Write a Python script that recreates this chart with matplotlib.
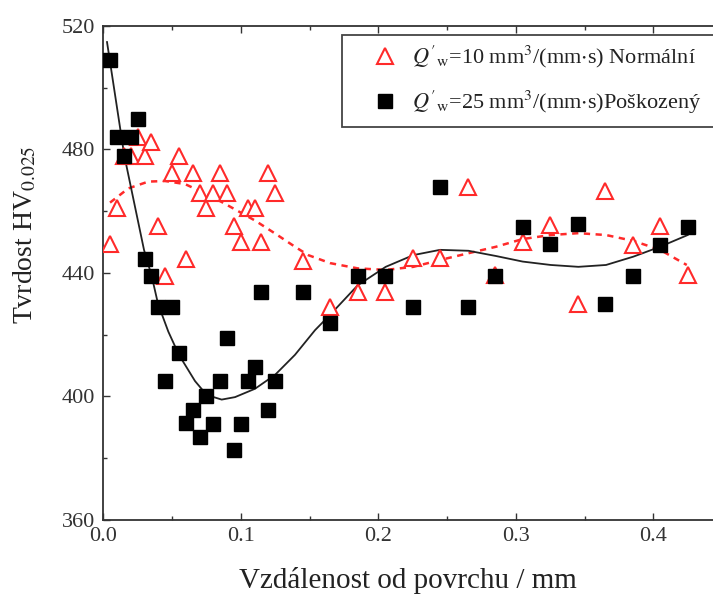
import matplotlib
matplotlib.use("Agg")
import matplotlib.pyplot as plt
from matplotlib.ticker import MultipleLocator, FormatStrFormatter
from matplotlib.patches import Rectangle

plt.rcParams['font.family'] = ['Liberation Serif', 'DejaVu Serif']
plt.rcParams['mathtext.fontset'] = 'stix'

# ---- data ----
x_sq = [0.005, 0.010, 0.015, 0.020, 0.025, 0.030, 0.035, 0.040, 0.045, 0.050,
        0.055, 0.060, 0.065, 0.070, 0.075, 0.080, 0.085, 0.090, 0.095, 0.100,
        0.105, 0.110, 0.115, 0.120, 0.125, 0.145, 0.165, 0.185, 0.205, 0.225,
        0.245, 0.265, 0.285, 0.305, 0.325, 0.345, 0.365, 0.385, 0.405, 0.425]
y_sq = [509, 484, 478, 484, 490, 444.5, 439, 429, 405, 429,
        414, 391.4, 395.6, 387, 400, 391, 405, 419, 382.7, 391,
        405, 409.5, 434, 395.6, 405, 434, 423.7, 439, 439, 429,
        467.7, 429, 439, 455, 449.4, 456, 430, 439, 449, 455]

x_tri = [0.005, 0.010, 0.015, 0.020, 0.025, 0.030, 0.035, 0.040, 0.045, 0.050,
         0.055, 0.060, 0.065, 0.070, 0.075, 0.080, 0.085, 0.090, 0.095, 0.100,
         0.105, 0.110, 0.115, 0.120, 0.125, 0.145, 0.165, 0.185, 0.205, 0.225,
         0.245, 0.265, 0.285, 0.305, 0.325, 0.345, 0.365, 0.385, 0.405, 0.425]
y_tri = [449.4, 461, 478, 478, 484, 478, 482.5, 455.3, 439, 472.5,
         478, 444.4, 472.5, 466, 461, 466, 472.5, 466, 455.3, 450,
         461, 461, 450, 472.5, 466, 444, 429, 434, 434, 444.8,
         444.8, 468, 439.4, 450, 455.5, 430, 466.6, 449, 455.2, 439.4]

# fitted trend curves as drawn in the reference
x_fit_sq = [0.0027, 0.0153, 0.0296, 0.0352, 0.0398, 0.0473, 0.055, 0.0667, 0.0752,
            0.0861, 0.0958, 0.1103, 0.1249, 0.1394, 0.154, 0.165, 0.185, 0.2054,
            0.2255, 0.2449, 0.2655, 0.2856, 0.305, 0.3254, 0.3455, 0.3656, 0.3855,
            0.4049, 0.425]
y_fit_sq = [514.8, 478, 447.5, 439, 430, 421, 413.5, 405, 400.5,
            399, 399.8, 402.5, 407, 413.5, 421.5, 426.5, 436, 442,
            445.8, 447.5, 447.2, 445.5, 443.7, 442.6, 442, 442.6, 445.3,
            448.5, 452.3]

x_fit_tri = [0.0049, 0.0182, 0.0327, 0.0449, 0.0594, 0.074, 0.0861, 0.0982, 0.1103,
             0.1249, 0.1394, 0.149, 0.165, 0.185, 0.2054, 0.2255, 0.2449, 0.2655,
             0.2856, 0.305, 0.3254, 0.3455, 0.3656, 0.3855, 0.4049, 0.4243]
y_fit_tri = [462.8, 467.4, 469.6, 469.8, 468.8, 465.8, 463, 460, 457,
             452.8, 448.5, 445.8, 443.2, 441.5, 441, 442, 444.2, 446.4,
             448.5, 451, 452.3, 452.9, 452.3, 450.4, 447.5, 442.6]

label_tri = r"$Q'_{\rm w}$=10 mm$^3$/(mm$\cdot$s) Normální"
label_sq = r"$Q'_{\rm w}$=25 mm$^3$/(mm$\cdot$s)Poškozený"
x_label = "Vzdálenost od povrchu / mm"
y_label = r"Tvrdost HV$_{\rm 0.025}$"

# ---- figure ----
W, H = 713, 595
fig = plt.figure(figsize=(W / 100, H / 100), dpi=100)
ax_l, ax_b, ax_w, ax_h = 103.3 / W, 75 / H, 1 - 103.3 / W, 494 / H
ax = fig.add_axes([ax_l, ax_b, ax_w, ax_h])

red = '#ff2a2a'
ax.plot(x_fit_tri, y_fit_tri, color=red, lw=1.8, ls=(0, (2.5, 2.2)), zorder=2)
ax.plot(x_fit_sq, y_fit_sq, color='#222222', lw=1.3, zorder=2)
ax.plot(x_tri, y_tri, ls='none', marker='^', ms=11, mfc='white', mec=red,
        mew=1.5, label=label_tri, zorder=3)
ax.plot(x_sq, y_sq, ls='none', marker='s', ms=9.5, color='black',
        label=label_sq, zorder=4)

ax.set_xlim(0, 0.4434)
ax.set_ylim(360, 520)
ax.xaxis.set_major_locator(MultipleLocator(0.1))
ax.xaxis.set_minor_locator(MultipleLocator(0.05))
ax.yaxis.set_major_locator(MultipleLocator(40))
ax.yaxis.set_minor_locator(MultipleLocator(20))
ax.xaxis.set_major_formatter(FormatStrFormatter('%.1f'))

ax.tick_params(which='both', direction='in', top=True, right=False,
               colors='#333333', labelcolor='#333333', labelsize=16, width=1.0)
ax.tick_params(which='major', length=5)
ax.tick_params(which='minor', length=3)
ax.tick_params(axis='x', pad=5)
ax.tick_params(axis='y', pad=6)

for s in ['left', 'bottom', 'top']:
    ax.spines[s].set_color('#333333')
    ax.spines[s].set_linewidth(1.3)
ax.spines['right'].set_visible(False)

ax.set_xlabel(x_label, fontsize=21, color='#222222', labelpad=15)
ax.set_ylabel(y_label, fontsize=20, color='#222222')
ax.yaxis.set_label_coords(-0.107, 0.577)


def ax_x(px):
    return (px - 103.3) / 610.0


def ax_y(py):
    return (520 - py) / 494.0


# legend frame (extends past the right edge as in the reference)
frame = Rectangle((ax_x(342), ax_y(127)), 1.2, ax_y(35) - ax_y(127),
                  transform=ax.transAxes, fill=True, facecolor='white',
                  edgecolor='#444444', lw=1.3, clip_on=False, zorder=5)
ax.add_patch(frame)

leg = ax.legend(loc='upper left', bbox_to_anchor=(ax_x(374), ax_y(44)),
                borderaxespad=0, borderpad=0, fontsize=16, frameon=False,
                handletextpad=0.7, labelspacing=0.85, handlelength=1.0)
leg.set_zorder(6)
for t in leg.get_texts():
    t.set_color('#222222')

fig.savefig('out.png', dpi=100)
